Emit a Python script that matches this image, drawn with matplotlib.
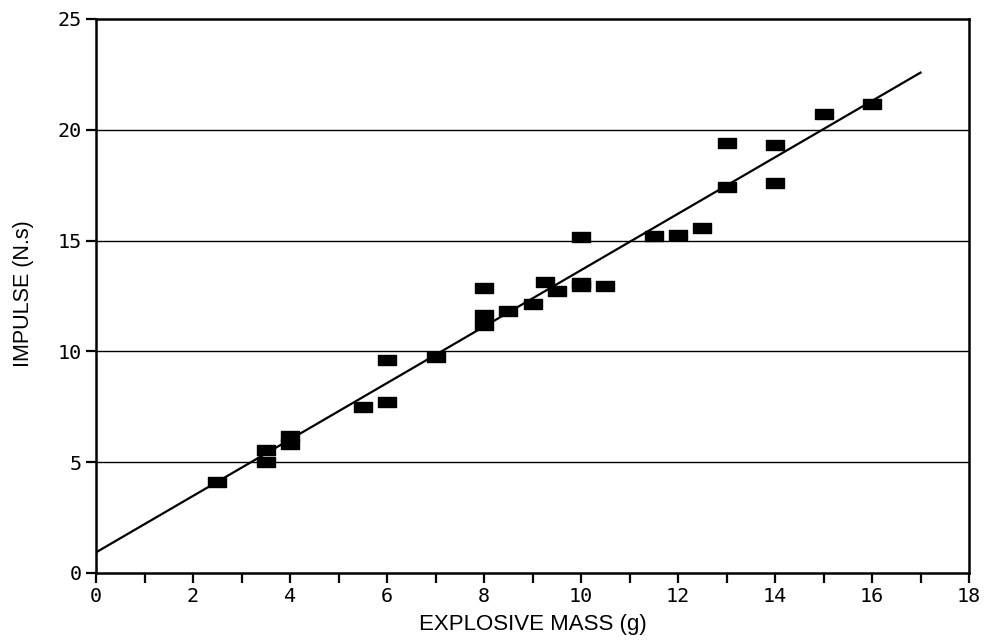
import matplotlib
matplotlib.use("Agg")
import matplotlib.pyplot as plt
import numpy as np
from matplotlib.path import Path

# measured points (explosive mass in g, impulse in N.s)
mass = [2.5, 3.5, 3.5, 4.0, 4.0, 5.5, 6.0, 6.0, 7.0, 8.0, 8.0, 8.0, 8.5, 9.0,
        9.25, 9.5, 10.0, 10.0, 10.0, 10.5, 11.5, 12.0, 12.5, 13.0, 13.0,
        14.0, 14.0, 15.0, 16.0]
impulse = [4.1, 5.55, 5.0, 6.2, 5.8, 7.5, 9.6, 7.7, 9.75, 12.87, 11.64, 11.19,
           11.84, 12.14, 13.15, 12.72, 15.15, 13.1, 12.95, 12.97, 15.2, 15.25,
           15.55, 19.4, 17.4, 19.3, 17.6, 20.7, 21.15]

# straight line fit
fit_x = [0.0, 17.0]
fit_y = [0.93, 22.58]

x_ticks = list(range(0, 19))
x_labels = [str(v) if v % 2 == 0 else "" for v in x_ticks]
y_ticks = [0, 5, 10, 15, 20, 25]

rect = Path([(-1, -0.62), (1, -0.62), (1, 0.62), (-1, 0.62), (-1, -0.62)],
            [Path.MOVETO, Path.LINETO, Path.LINETO, Path.LINETO, Path.CLOSEPOLY])

fig = plt.figure(figsize=(9.88, 6.44), dpi=100)
ax = fig.add_axes([0.0972, 0.1103, 0.8836, 0.8602])

for y in y_ticks[1:-1]:
    ax.axhline(y, color="black", lw=1.0, zorder=1)

ax.plot(fit_x, fit_y, color="black", lw=1.6, zorder=2)
ax.plot(mass, impulse, linestyle="none", marker=rect, markersize=12.5,
        color="black", zorder=3)

ax.set_xlim(0, 18)
ax.set_ylim(0, 25)
ax.set_xticks(x_ticks)
ax.set_xticklabels(x_labels)
ax.set_yticks(y_ticks)

for s in ax.spines.values():
    s.set_linewidth(1.8)

ax.tick_params(axis="both", direction="out", length=7, width=1.6,
               labelsize=14.5, pad=3)
for lab in ax.get_xticklabels() + ax.get_yticklabels():
    lab.set_family("DejaVu Sans Mono")

ax.set_xlabel("EXPLOSIVE MASS (g)", family="Liberation Sans", fontsize=16,
              labelpad=6)
ax.set_ylabel("IMPULSE (N.s)", family="Liberation Sans", fontsize=15.5)
ax.yaxis.set_label_coords(-0.0705, 0.5045)

fig.savefig("out.png", dpi=100)
